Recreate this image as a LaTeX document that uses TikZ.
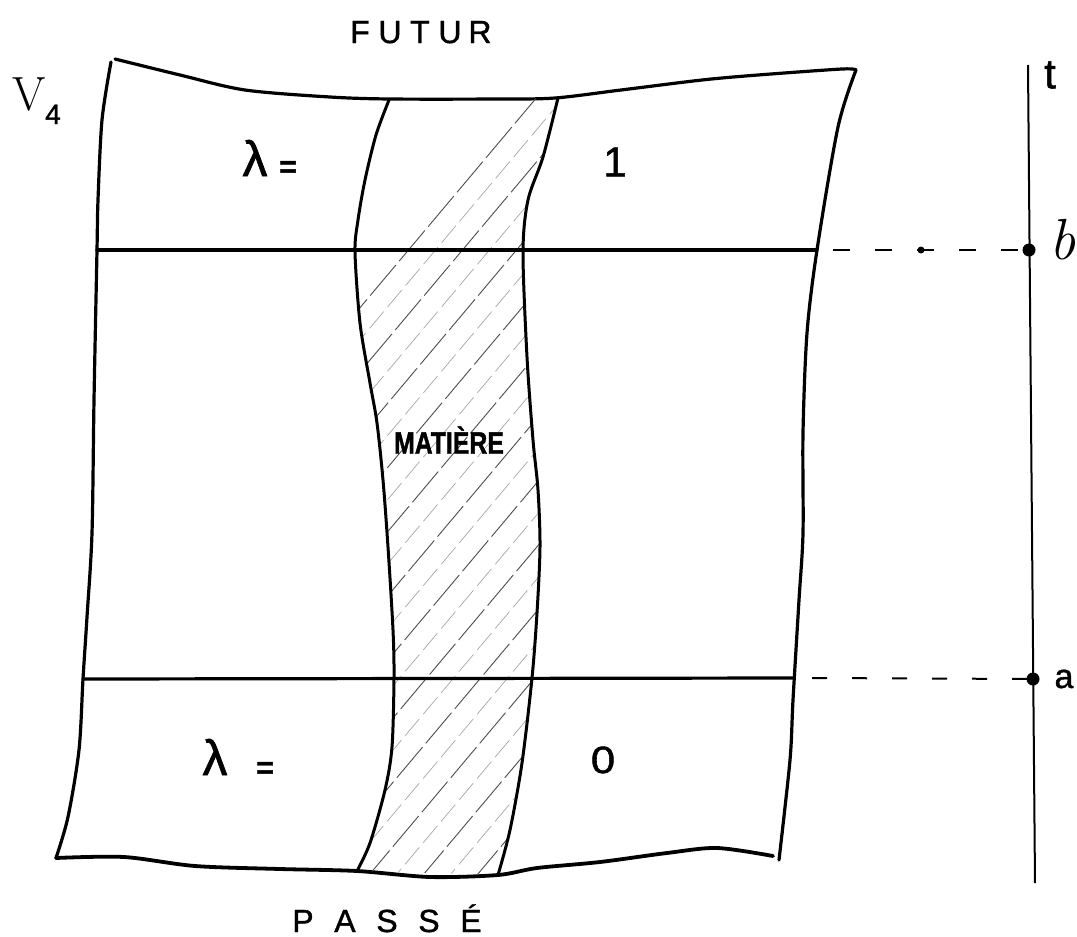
\documentclass[tikz,border=0pt]{standalone}
\usepackage{fontspec}
\newfontfamily\hand[FakeBold=1.2]{Liberation Sans}
\newfontfamily\handbold[FakeBold=1.5]{Liberation Sans}
\begin{document}
\begin{tikzpicture}[x=1pt,y=-1pt,
  frame/.style={line width=3.2pt,line join=round,line cap=round},
  bound/.style={line width=3pt,line join=round,line cap=round},
  hline/.style={line width=3.2pt,line cap=round},
  hatchdark/.style={line width=0.9pt,black!70,dash pattern=on 40pt off 5pt},
  hatchlight/.style={line width=0.7pt,black!35,dash pattern=on 22pt off 6pt},
  guide/.style={line width=2pt,dash pattern=on 17pt off 25pt},
  axis/.style={line width=2pt},
  dotnode/.style={circle,fill=black,inner sep=0pt,minimum size=13pt},
  smalldot/.style={circle,fill=black,inner sep=0pt,minimum size=7pt},
  lab/.style={inner sep=0pt,outer sep=0pt},
]
\useasboundingbox (0,0) rectangle (1077,937);

% outer frame
\draw[frame] plot[smooth] coordinates {(115,59) (180,75) (245,90) (330,97) (390,99) (500,99) (555,98) (621,90) (702,80) (758,75) (842,69) (856,70)};
\draw[frame] plot[smooth] coordinates {(856,70) (838,127) (817,250) (807,333) (803,433) (803,533) (799,600) (793,700) (790,760) (779,860)};
\draw[frame,line width=3.8pt] plot[smooth] coordinates {(56,858) (124,857) (195,866) (280,869) (357,871) (430,877) (498,875) (537,868) (600,862) (667,853) (717,848) (773,856)};
\draw[frame] plot[smooth] coordinates {(111,62) (102,120) (98,200) (97,250) (94,400) (92,533) (87,617) (83,679) (79,750) (68,817) (56,858)};

% hatching of the matter band
\begin{scope}
\clip plot[smooth] coordinates {(389,100) (376,135) (365,180) (358,220) (355,252) (360,323) (370,383) (377,423) (383,480) (388,547) (393,630) (394,678) (392,747) (385,790) (370,843) (357,871)}
  -- plot[smooth] coordinates {(498,875) (510,830) (522,763) (532,678) (537,613) (540,547) (538,490) (533,440) (527,357) (523,252) (528,200) (543,157) (558,98)} -- cycle;
\foreach \k in {0,...,14} {
  \draw[hatchdark] (-180+54*\k,950) -- ++(760,-904);
  \draw[hatchlight] (-153+54*\k,950) -- ++(760,-904);
}
\end{scope}

% matter boundaries
\draw[bound] plot[smooth] coordinates {(389,100) (376,135) (365,180) (358,220) (355,252) (360,323) (370,383) (377,423) (383,480) (388,547) (393,630) (394,678) (392,747) (385,790) (370,843) (357,871)};
\draw[bound] plot[smooth] coordinates {(558,98) (543,157) (528,200) (523,252) (527,357) (533,440) (538,490) (540,547) (537,613) (532,678) (522,763) (510,830) (498,875)};

% the two hypersurfaces
\coordinate (bl) at (97,250);
\coordinate (br) at (817,250);
\coordinate (al) at (83,679);
\coordinate (ar) at (793,678);
\draw[hline] (bl) -- (br);
\draw[hline] (al) -- (ar);

% time axis
\coordinate (ttop) at (1028,65);
\coordinate (tbot) at (1035,883);
\draw[axis] (ttop) -- (tbot);
\node[dotnode] (bdot) at (1029,250) {};
\node[dotnode] (adot) at (1033,679) {};
\node[smalldot] (mid) at (921,250) {};
\coordinate (bstart) at (833,250);
\coordinate (astart) at (812,678);
\draw[guide] (bstart) -- (bdot.center);
\draw[guide,dash pattern=on 15pt off 25pt] (astart) -- (adot.center);

% labels
\node[lab,anchor=base] (futur) at (420,43) {\hand\fontsize{32}{32}\selectfont\makebox[30pt]{F}\makebox[30pt]{U}\makebox[30pt]{T}\makebox[30pt]{U}\makebox[30pt]{R}};
\node[lab,anchor=base] (passe) at (387,932) {\hand\fontsize{32}{32}\selectfont\makebox[42pt]{P}\makebox[42pt]{A}\makebox[42pt]{S}\makebox[42pt]{S}\makebox[42pt]{É}};
\node[lab,anchor=base] (V) at (29,110) {\fontsize{48}{48}\selectfont V};
\node[lab,anchor=base] (Vsub) at (53,124) {\hand\fontsize{28}{28}\selectfont 4};
\node[lab] (lam1) at (255,158) {\hand\fontsize{50}{50}\selectfont λ};
\node[lab] (eq1) at (288,169) {\handbold\bfseries\fontsize{30}{30}\selectfont =};
\node[lab] (one) at (615,162) {\hand\fontsize{42}{42}\selectfont 1};
\node[lab] (lam0) at (215,757) {\hand\fontsize{50}{50}\selectfont λ};
\node[lab] (eq0) at (265,770) {\handbold\bfseries\fontsize{30}{30}\selectfont =};
\node[lab,xscale=1.15] (zero) at (603,760) {\hand\fontsize{38}{38}\selectfont 0};
\node[lab,xscale=0.8] (mat) at (449,440) {\handbold\bfseries\fontsize{31}{31}\selectfont MATIÈRE};
\node[lab] (t) at (1050,75) {\hand\fontsize{42}{42}\selectfont t};
\node[lab] (b) at (1063,240) {\fontsize{58}{58}\selectfont\itshape b};
\node[lab] (a) at (1064,679) {\hand\fontsize{34}{34}\selectfont a};
\end{tikzpicture}
\end{document}
